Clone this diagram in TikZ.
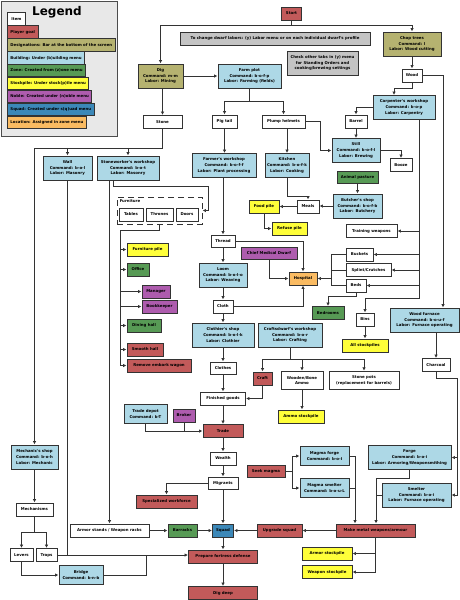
\documentclass[tikz,border=0pt]{standalone}
\usepackage{fontspec}
\newfontfamily\dvs{DejaVu Sans}
\usetikzlibrary{arrows.meta}

\definecolor{goalred}{HTML}{C25A5A}
\definecolor{desigolive}{HTML}{B5B270}
\definecolor{buildblue}{HTML}{ADD8E6}
\definecolor{zonegreen}{HTML}{579A55}
\definecolor{pileyellow}{HTML}{FFFF3A}
\definecolor{noblepurple}{HTML}{AE5CAE}
\definecolor{squadblue}{HTML}{3C88B8}
\definecolor{locorange}{HTML}{FABB62}
\definecolor{notegray}{HTML}{C4C4C4}
\newcommand{\diafont}{\dvs\bfseries\fontsize{3.9}{5.6}\selectfont}

\begin{document}
\begin{tikzpicture}[x=1pt,y=-1pt]
\tikzset{every node/.style={font=\diafont},
  box/.style={draw=black!80, line width=0.9pt, align=center, inner xsep=1pt, inner ysep=1.5pt, minimum height=13},
  duo/.style={minimum height=18.5},
  tri/.style={minimum height=24},
  item/.style={box, fill=white},
  goal/.style={box, fill=goalred},
  desig/.style={box, fill=desigolive},
  build/.style={box, fill=buildblue},
  zone/.style={box, fill=zonegreen},
  pile/.style={box, fill=pileyellow},
  noble/.style={box, fill=noblepurple},
  squadbox/.style={box, fill=squadblue},
  loc/.style={box, fill=locorange},
  note/.style={box, fill=notegray},
  legitem/.style={box, anchor=west, inner xsep=3pt, minimum height=12.5},
  furngroup/.style={draw=black!80, line width=0.9pt, dash pattern=on 6pt off 4pt},
  link/.style={draw=black!80, line width=0.8pt},
  arr/.style={link, -{Latex[length=3.5pt,width=3.5pt]}}}
\useasboundingbox (0,0) rectangle (460,600);

% Legend
\draw[draw=black!70, fill=black!9, line width=0.8pt] (1,1) rectangle (117,136);
\node[font=\dvs\bfseries\fontsize{12}{14}\selectfont] (legendtitle) at (57,12.5) {Legend};
\node[legitem, fill=white, minimum width=18] (lgitem) at (7,19) {Item};
\node[legitem, fill=goalred] (lggoal) at (7,32) {Player goal};
\node[legitem, fill=desigolive] (lgdesig) at (7,45) {Designations: Bar at the bottom of the screen};
\node[legitem, fill=buildblue] (lgbuild) at (7,58) {Building: Under (b)uilding menu};
\node[legitem, fill=zonegreen] (lgzone) at (7,70.5) {Zone: Created from (z)one menu};
\node[legitem, fill=pileyellow] (lgpile) at (7,83.5) {Stockpile: Under stock(p)ile menu};
\node[legitem, fill=noblepurple] (lgnoble) at (7,96.5) {Noble: Created under (n)oble menu};
\node[legitem, fill=squadblue] (lgsquad) at (7,109.5) {Squad: Created under s(q)uad menu};
\node[legitem, fill=locorange] (lgloc) at (7,122.5) {Location: Assigned in zone menu};

% Top row
\node[goal, minimum width=20] (start) at (291.5,13.5) {Start};
\node[note, minimum width=190] (labornote) at (275,38.5) {To change dwarf labors: (y) Labor menu or on each individual dwarf's profile};
\node[note, tri, minimum width=71] (tabsnote) at (322.5,63) {Check other tabs in (y) menu\\for Standing Orders and\\cooking/brewing settings};
\node[desig, tri, minimum width=45] (dig) at (160.5,76) {Dig\\Command: m-m\\Labor: Mining};
\node[build, tri, minimum width=63] (farm) at (249.5,76) {Farm plot\\Command: b-o-f-p\\Labor: Farming (fields)};
\node[desig, tri, minimum width=58] (chop) at (412,44) {Chop trees\\Command: l\\Labor: Wood cutting};
\node[item, minimum width=20] (wood) at (412,75.5) {Wood};
\node[item, minimum width=39] (stone) at (162.5,122) {Stone};
\node[item, minimum width=25] (pigtail) at (224.5,121.5) {Pig tail};
\node[item, minimum width=43] (plump) at (283.5,121.5) {Plump helmets};
\node[build, tri, minimum width=62] (carpenter) at (404,107.5) {Carpenter's workshop\\Command: b-o-p\\Labor: Carpentry};
\node[item, minimum width=22] (barrel) at (356,121.5) {Barrel};
\node[build, tri, minimum width=48] (still) at (356,150.5) {Still\\Command: b-o-f-l\\Labor: Brewing};
\node[item, minimum width=22] (booze) at (401,165) {Booze};

% Workshops
\node[build, tri, minimum width=49] (wall) at (67.5,168) {Wall\\Command: b-o-l\\Labor: Masonry};
\node[build, tri, minimum width=62] (stoneworker) at (128,168) {Stoneworker's workshop\\Command: b-o-t\\Labor: Masonry};
\node[build, tri, minimum width=64] (farmer) at (224,165.5) {Farmer's workshop\\Command: b-o-f-f\\Labor: Plant processing};
\node[build, tri, minimum width=44] (kitchen) at (287,165.5) {Kitchen\\Command: b-o-f-k\\Labor: Cooking};
\node[zone, minimum width=41, minimum height=12] (animal) at (357.5,177) {Animal pasture};
\node[build, tri, minimum width=49] (butcher) at (357.5,206) {Butcher's shop\\Command: b-o-f-b\\Labor: Butchery};
\node[item, minimum width=22] (meals) at (308,206.5) {Meals};
\node[pile, minimum width=30] (foodpile) at (264,206.5) {Food pile};
\node[pile, minimum width=35] (refuse) at (289.5,228.5) {Refuse pile};
\node[item, minimum width=51] (training) at (371.5,231) {Training weapons};
\node[item, minimum width=27] (buckets) at (359.5,254.5) {Buckets};
\node[item, minimum width=45] (splint) at (368.5,270) {Splint/Crutches};
\node[item, minimum width=20] (beds) at (356,285.5) {Beds};
\node[loc, minimum width=28] (hospital) at (303,278.5) {Hospital};
\node[item, minimum width=24, minimum height=12] (thread) at (223,241) {Thread};
\node[noble, minimum width=56, minimum height=12] (cmd) at (269,253) {Chief Medical Dwarf};
\node[build, tri, minimum width=48] (loom) at (223,275) {Loom\\Command: b-o-l-o\\Labor: Weaving};
\node[item, minimum width=20] (cloth) at (223,306.5) {Cloth};
\node[build, tri, minimum width=62] (clothier) at (223,335) {Clothier's shop\\Command: b-o-l-k\\Labor: Clothier};
\node[build, tri, minimum width=64] (craftsdwarf) at (290,335) {Craftsdwarf's workshop\\Command: b-o-r\\Labor: Crafting};
\node[item, minimum width=26, minimum height=12] (clothes) at (223,368) {Clothes};
\node[goal, minimum width=19] (craft) at (262.5,378.5) {Craft};
\node[item, duo, minimum width=42] (ammo) at (302,380.5) {Wooden/Bone\\Ammo};
\node[item, duo, minimum width=70] (pots) at (364,380.5) {Stone pots\\(replacement for barrels)};
\node[pile, minimum width=46] (ammopile) at (301,416.5) {Ammo stockpile};
\node[zone, minimum width=32] (bedrooms) at (328,313) {Bedrooms};
\node[item, minimum width=18] (bins) at (365,319.5) {Bins};
\node[pile, minimum width=46] (allpiles) at (365,345.5) {All stockpiles};
\node[build, tri, minimum width=69] (woodfurnace) at (424.5,320) {Wood furnace\\Command: b-o-u-f\\Labor: Furnace operating};
\node[item, minimum width=28] (charcoal) at (436,365) {Charcoal};

% Furniture
\node[furngroup, minimum width=85, minimum height=27] (furniture) at (159.5,210.5) {};
\node[anchor=north west, inner sep=1pt] (furnlabel) at ([xshift=2pt,yshift=-2pt]furniture.north west) {Furniture};
\node[item, minimum width=24] (tables) at (131,214.5) {Tables};
\node[item, minimum width=27] (thrones) at (159.5,214.5) {Thrones};
\node[item, minimum width=22] (doors) at (187,214.5) {Doors};
\node[pile, minimum width=41] (furnpile) at (147.5,249.5) {Furniture pile};
\node[zone, minimum width=22] (office) at (138,269.5) {Office};
\node[noble, minimum width=28] (manager) at (156,291.5) {Manager};
\node[noble, minimum width=35] (bookkeeper) at (159.5,306.5) {Bookkeeper};
\node[zone, minimum width=34] (dining) at (144,325.5) {Dining hall};
\node[goal, minimum width=36] (smooth) at (145,349.5) {Smooth hall};
\node[goal, minimum width=64] (embark) at (159,365.5) {Remove embark wagon};

% Trade and defense
\node[item, minimum width=45] (finished) at (223,398.5) {Finished goods};
\node[goal, minimum width=40] (trade) at (223,431) {Trade};
\node[noble, minimum width=22] (broker) at (184,415.5) {Broker};
\node[build, duo, minimum width=43] (depot) at (145.5,414) {Trade depot\\Command: b-T};
\node[item, minimum width=26] (wealth) at (223,458.5) {Wealth};
\node[item, minimum width=30, minimum height=12] (migrants) at (223,483) {Migrants};
\node[goal, minimum width=61] (special) at (166.5,501.5) {Specialized workforce};
\node[goal, minimum width=38, minimum height=12] (seekmagma) at (266,471) {Seek magma};
\node[build, duo, minimum width=49] (mforge) at (324.5,456) {Magma forge\\Command: b-o-I};
\node[build, duo, minimum width=49] (msmelter) at (324.5,488) {Magma smelter\\Command: b-o-u-L};
\node[build, tri, minimum width=83] (forge) at (409.5,457.5) {Forge\\Command: b-o-i\\Labor: Armoring/Weaponsmithing};
\node[build, tri, minimum width=69] (smelter) at (416.5,495) {Smelter\\Command: b-o-i\\Labor: Furnace operating};
\node[goal, minimum width=79] (makemetal) at (375.5,530.5) {Make metal weapons/armour};
\node[goal, minimum width=45] (upgrade) at (279.5,530.5) {Upgrade squad};
\node[squadbox, minimum width=21] (squad) at (223,530.5) {Squad};
\node[zone, minimum width=29] (barracks) at (182.5,530.5) {Barracks};
\node[item, minimum width=79] (armorstands) at (109.5,530.5) {Armor stands / Weapon racks};
\node[pile, minimum width=50] (armorpile) at (327,553.5) {Armor stockpile};
\node[pile, minimum width=50] (weaponpile) at (327,572) {Weapon stockpile};
\node[goal, minimum width=69] (prepare) at (223,556.5) {Prepare fortress defense};
\node[goal, minimum width=69] (digdeep) at (223,593) {Dig deep};
\node[build, tri, minimum width=47] (mechshop) at (34.5,457) {Mechanic's shop\\Command: b-o-h\\Labor: Mechanic};
\node[item, minimum width=37] (mechanisms) at (34.5,509.5) {Mechanisms};
\node[item, minimum width=23] (levers) at (21.5,555) {Levers};
\node[item, minimum width=21] (traps) at (46.5,555) {Traps};
\node[build, duo, minimum width=44] (bridge) at (81,575) {Bridge\\Command: b-n-b};

% Start, farming, wood
\coordinate (topbus) at ([yshift=-5pt]start.south);
\draw[arr] (start.south) -- (topbus) -| (dig.north);
\draw[arr] (topbus) -| (chop.north);
\draw[arr] (dig.east) -- (farm.west);
\draw[arr] (dig.south -| stone.north) -- (stone.north);
\coordinate (farmbus) at ([yshift=-13pt]farm.south);
\draw[link] (farm.south) -- (farmbus);
\draw[arr] (farmbus) -| (pigtail.north);
\draw[arr] (farmbus) -| (plump.north);
\draw[arr] (chop.south) -- (wood.north);
\draw[arr] (wood.east) -| ([xshift=18.5pt]woodfurnace.north);
\draw[arr] (wood.south) -- ++(0,6) -| ([xshift=-10pt]carpenter.north);
\draw[arr] (carpenter.west) -| (barrel.north);
\draw[arr] (barrel.south) -- (still.north);
\draw[arr] (still.east) -| (booze.north);
\draw[arr] (plump.east) -- ++(15,0) |- (still.west);

% Carpenter products
\coordinate (carpbus) at ([xshift=15pt]carpenter.south);
\draw[arr] (carpbus) -- ++(0,178) -| (bins.north);
\draw[arr] (carpbus |- training.east) -- (training.east);
\draw[arr] (carpbus |- buckets.east) -- (buckets.east);
\draw[arr] (carpbus |- splint.east) -- (splint.east);
\draw[arr] (carpbus |- beds.east) -- (beds.east);
\draw[arr] (beds.south) -- ++(0,4) -| (bedrooms.north);
\draw[arr] (bins.south) -- (allpiles.north);
\draw[link] (buckets.west) -- ++(-14,0) |- (beds.west);
\draw[link] (splint.west) -- ++(-14,0);
\draw[arr] (buckets.west) ++(-14,0) |- (hospital.east);

% Stone
\coordinate (stonebus) at ([yshift=-19pt]stone.south);
\draw[arr] (stone.south) -- (stonebus) -| (mechshop.north);
\draw[arr] (stonebus -| wall.north) -- (wall.north);
\draw[arr] (stonebus -| stoneworker.north) -- (stoneworker.north);
\draw[arr] (armorstands.north |- stoneworker.south) -- (armorstands.north);
\draw[arr] ([xshift=-15pt]stoneworker.south) -- ++(0,6) -- ++(95,0) |- (furniture.east);
\coordinate (furnbus) at ([xshift=-39.5pt,yshift=-6pt]furniture.south);
\draw[link] (furniture.south) -- ++(0,6) -- (furnbus);
\draw[arr] (furnbus) |- (embark.west);
\draw[arr] (furnbus |- furnpile.west) -- (furnpile.west);
\draw[arr] (furnbus |- office.west) -- (office.west);
\draw[arr] (furnbus |- manager.west) -- (manager.west);
\draw[arr] (furnbus |- bookkeeper.west) -- (bookkeeper.west);
\draw[arr] (furnbus |- dining.west) -- (dining.west);
\draw[arr] (furnbus |- smooth.west) -- (smooth.west);

% Food and cloth
\draw[arr] (pigtail.south) -- (pigtail.south |- farmer.north);
\draw[arr] (kitchen.north |- plump.south) -- (kitchen.north);
\draw[arr] (kitchen.south) -- ++(0,18) -| (meals.north);
\draw[arr] (animal.south) -- (butcher.north);
\draw[arr] (butcher.west) -- (butcher.west -| meals.east);
\draw[arr] (meals.west) -- (foodpile.east);
\draw[arr] (foodpile.south) |- (refuse.west);
\draw[arr] (farmer.south -| thread.north) -- (thread.north);
\draw[arr] (thread.east) -| (hospital.north);
\draw[arr] (cmd.south) |- (hospital.west);
\draw[arr] (thread.south) -- (loom.north);
\draw[arr] (loom.south) -- (cloth.north);
\draw[arr] (cloth.east) -| (hospital.south);
\draw[arr] (cloth.south) -- (clothier.north);
\draw[arr] (clothier.south) -- (clothes.north);
\draw[arr] (clothes.south) -- (finished.north);
\coordinate (craftbus) at ([yshift=-12pt]craftsdwarf.south);
\draw[link] (craftsdwarf.south) -- (craftbus);
\draw[arr] (craftbus) -| (craft.north);
\draw[arr] (craftbus) -| (ammo.north);
\draw[arr] (craftbus) -| (pots.north);
\draw[arr] (ammo.south) -- (ammo.south |- ammopile.north);
\draw[arr] (craft.south) |- (finished.east);
\draw[arr] (woodfurnace.south -| charcoal.north) -- (charcoal.north);

% Trade, migrants, squad
\draw[arr] (finished.south) -- (trade.north);
\draw[arr] (depot.south) |- (trade.west);
\draw[link] (broker.south) -- (broker.south |- trade.west);
\draw[arr] (trade.south) -- (wealth.north);
\draw[arr] (wealth.south) -- (migrants.north);
\draw[arr] (migrants.west) -| (special.north);
\draw[arr] (migrants.south) -- (squad.north);
\draw[arr] (squad.south) -- (prepare.north);
\draw[arr] (prepare.south) -- (digdeep.north);
\draw[arr] (armorstands.east) -- (barracks.west);
\draw[arr] (barracks.east) -- (squad.west);
\draw[arr] (upgrade.west) -- (squad.east);
\draw[arr] (makemetal.west) -- (upgrade.east);

% Metal
\draw[arr] (seekmagma.east) -- ++(7,0) |- (mforge.west);
\draw[arr] (seekmagma.east) ++(7,0) |- (msmelter.west);
\coordinate (magmain) at ([xshift=-20.5pt]makemetal.north);
\draw[arr] (mforge.east) -| (magmain);
\draw[link] (msmelter.east) -- (msmelter.east -| magmain);
\coordinate (forgein) at ([xshift=0.5pt]makemetal.north);
\draw[arr] (forge.south) -- ++(0,8) -| (forgein);
\draw[link] (smelter.west) -- (smelter.west -| forgein);
\coordinate (coalbus) at ([xshift=21pt,yshift=-6pt]charcoal.south);
\draw[arr] (charcoal.south) |- (coalbus) |- (smelter.east);
\draw[arr] (coalbus |- forge.east) -- (forge.east);
\draw[arr] (makemetal.south) |- (weaponpile.east);
\draw[arr] (makemetal.south |- armorpile.east) -- (armorpile.east);

% Mechanisms and defense
\draw[arr] (mechshop.south) -- (mechanisms.north);
\coordinate (mechbus) at ([yshift=-16pt]mechanisms.south);
\draw[link] (mechanisms.south) -- (mechbus);
\draw[arr] (mechbus) -| (levers.north);
\draw[arr] (mechbus) -| (traps.north);
\draw[arr] (levers.south) |- (bridge.west);
\coordinate (defbus) at (traps.east -| prepare.west);
\draw[arr] (traps.east) -- (defbus);
\draw[link] (wall.south) -- (wall.south |- traps.east);
\draw[link] (bridge.east) -| ([xshift=-42pt]defbus);

\end{tikzpicture}
\end{document}
